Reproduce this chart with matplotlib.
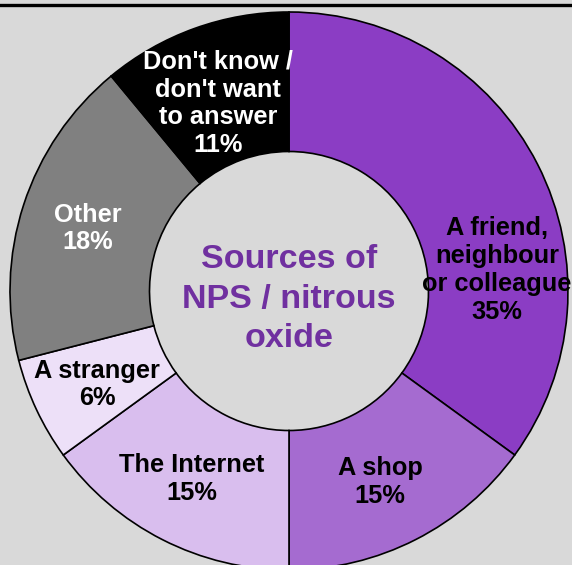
import matplotlib
matplotlib.use("Agg")
import matplotlib.pyplot as plt
from matplotlib.lines import Line2D

plt.rcParams['font.family'] = ['Liberation Sans', 'DejaVu Sans']

categories = ["A friend,\nneighbour\nor colleague", "A shop", "The Internet",
              "A stranger", "Other", "Don't know /\ndon't want\nto answer"]
values = [35, 15, 15, 6, 18, 11]
colors = ["#8B3DC4", "#A56BD0", "#D9BEEE", "#EDE0F8", "#808080", "#000000"]
text_colors = ["black", "black", "black", "black", "white", "white"]
center_title = "Sources of\nNPS / nitrous\noxide"

# label positions (layout, data coords of unit pie)
label_pos = [(0.745, 0.075), (0.326, -0.686), (-0.348, -0.675),
             (-0.688, -0.335), (-0.720, 0.224), (-0.254, 0.672)]

W, H = 572, 565
fig = plt.figure(figsize=(W / 100, H / 100), dpi=100)
fig.patch.set_facecolor("#D9D9D9")

cx, cy, R = 289, 291, 279
ax = fig.add_axes([(cx - R) / W, (H - cy - R) / H, 2 * R / W, 2 * R / H])
ax.set_facecolor("none")

ax.pie(values, colors=colors, startangle=90, counterclock=False, radius=1,
       wedgeprops=dict(width=0.5, edgecolor="black", linewidth=1.2))
ax.set_xlim(-1, 1)
ax.set_ylim(-1, 1)
ax.set_aspect("equal")
ax.axis("off")

for cat, v, tc, (x, y) in zip(categories, values, text_colors, label_pos):
    ax.text(x, y, f"{cat}\n{v}%", ha="center", va="center", color=tc,
            fontsize=18.3, fontweight="bold", linespacing=1.2)

ax.text(0, -0.03, center_title, ha="center", va="center", color="#7030A0",
        fontsize=24.5, fontweight="bold", linespacing=1.35)

fig.add_artist(Line2D([0, 1], [1 - 5 / H, 1 - 5 / H], color="black",
                      linewidth=2.4, transform=fig.transFigure))

fig.savefig("out.png", dpi=100, facecolor=fig.get_facecolor())
